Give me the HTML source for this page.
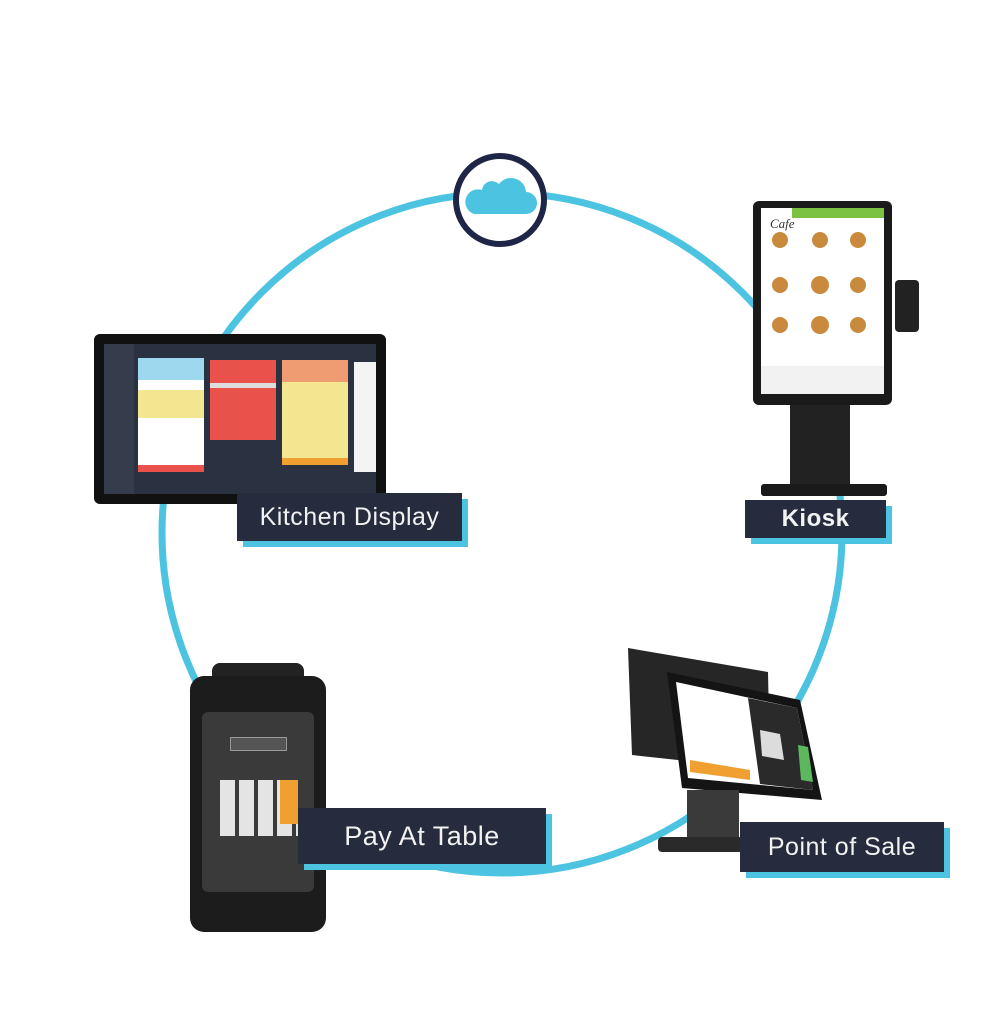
<!DOCTYPE html>
<html><head><meta charset="utf-8"><style>
html,body{margin:0;padding:0;background:#fff;width:1005px;height:1024px;overflow:hidden;position:relative;font-family:"Liberation Sans",sans-serif}
.a{position:absolute}
.lbl{position:absolute;background:#262b3e;color:#f2f2f2;box-shadow:6px 6px 0 #4cc3e0;display:flex;align-items:center;justify-content:center;font-size:25px;letter-spacing:0.5px}
</style></head><body>
<svg class="a" style="left:0;top:0" width="1005" height="1024">
<circle cx="502" cy="533" r="340" fill="none" stroke="#4cc3e0" stroke-width="7"/>
<circle cx="500" cy="200" r="44" fill="#fff" stroke="#1f2547" stroke-width="6"/>
<path d="M474 214 h52 a11 11 0 0 0 0-22 a15 15 0 0 0-27-8 a10 10 0 0 0-17 6 a12 12 0 0 0-8 24z" fill="#4cc3e0"/>
<!-- POS -->
<polygon points="628,648 768,672 770,770 632,755" fill="#262626"/>
<polygon points="667,672 800,700 822,800 682,788" fill="#141414"/>
<polygon points="676,682 797,708 813,790 688,778" fill="#fff"/>
<polygon points="748,698 797,708 813,790 760,784" fill="#2a2a2a"/>
<polygon points="760,730 780,734 784,760 762,756" fill="#dcdcdc"/>
<polygon points="798,745 808,747 813,782 801,780" fill="#5cb85c"/>
<polygon points="690,760 750,770 750,780 690,772" fill="#f0a030"/>
<rect x="687" y="790" width="52" height="50" fill="#3a3a3a"/>
<rect x="658" y="837" width="85" height="15" rx="4" fill="#2a2a2a"/>
<!-- kiosk food -->
<g fill="#c98a3e">
<circle cx="780" cy="240" r="9"/><circle cx="820" cy="240" r="9"/><circle cx="858" cy="240" r="9"/>
<circle cx="780" cy="285" r="9"/><circle cx="820" cy="285" r="9"/><circle cx="858" cy="285" r="9"/>
<circle cx="780" cy="325" r="9"/><circle cx="820" cy="325" r="9"/><circle cx="858" cy="325" r="9"/>
</g>
</svg>

<!-- Kitchen display -->
<div class="a" style="left:94px;top:334px;width:292px;height:170px;background:#111;border-radius:6px"></div>
<div class="a" style="left:104px;top:344px;width:272px;height:150px;background:#2a3140"></div>
<div class="a" style="left:104px;top:344px;width:30px;height:150px;background:#353c4b"></div>
<div class="a" style="left:138px;top:358px;width:66px;height:114px;background:#fff"></div>
<div class="a" style="left:138px;top:358px;width:66px;height:22px;background:#9dd8ee"></div>
<div class="a" style="left:138px;top:390px;width:66px;height:28px;background:#f2e690"></div>
<div class="a" style="left:138px;top:465px;width:66px;height:7px;background:#e8524a"></div>
<div class="a" style="left:210px;top:360px;width:66px;height:80px;background:#e8524a"></div>
<div class="a" style="left:210px;top:383px;width:66px;height:5px;background:#ddd"></div>
<div class="a" style="left:282px;top:360px;width:66px;height:105px;background:#f2e690"></div>
<div class="a" style="left:282px;top:360px;width:66px;height:22px;background:#f09c72"></div>
<div class="a" style="left:282px;top:458px;width:66px;height:7px;background:#f0a030"></div>
<div class="a" style="left:354px;top:362px;width:22px;height:110px;background:#f4f4f4"></div>

<!-- Kiosk -->
<div class="a" style="left:753px;top:201px;width:139px;height:204px;background:#1a1a1a;border-radius:6px"></div>
<div class="a" style="left:761px;top:208px;width:123px;height:186px;background:#fff;z-index:0"></div>
<div class="a" style="left:792px;top:208px;width:92px;height:10px;background:#7cc242"></div>
<div class="a" style="left:761px;top:366px;width:123px;height:28px;background:#f2f2f2"></div>
<div class="a" style="left:895px;top:280px;width:24px;height:52px;background:#222;border-radius:4px"></div>
<div class="a" style="left:790px;top:405px;width:60px;height:80px;background:#222"></div>
<div class="a" style="left:761px;top:484px;width:126px;height:12px;background:#1a1a1a;border-radius:3px"></div>
<svg class="a" style="left:0;top:0" width="1005" height="1024">
<g fill="#c98a3e">
<circle cx="780" cy="240" r="8"/><circle cx="820" cy="240" r="8"/><circle cx="858" cy="240" r="8"/>
<circle cx="780" cy="285" r="8"/><circle cx="820" cy="285" r="9"/><circle cx="858" cy="285" r="8"/>
<circle cx="780" cy="325" r="8"/><circle cx="820" cy="325" r="9"/><circle cx="858" cy="325" r="8"/>
</g>
<text x="770" y="228" font-family="Liberation Serif" font-style="italic" font-size="13" fill="#333">Cafe</text>
</svg>

<!-- Pay terminal -->
<div class="a" style="left:212px;top:663px;width:92px;height:20px;background:#222;border-radius:8px 8px 0 0"></div>
<div class="a" style="left:190px;top:676px;width:136px;height:256px;background:#1c1c1c;border-radius:14px"></div>
<div class="a" style="left:202px;top:712px;width:112px;height:180px;background:#3a3a3a;border-radius:6px"></div>
<div class="a" style="left:230px;top:737px;width:55px;height:12px;background:#555;border:1px solid #999"></div>
<div class="a" style="left:220px;top:780px;width:78px;height:56px;background:repeating-linear-gradient(90deg,#e4e4e4 0 15px,#3a3a3a 15px 19px)"></div>
<div class="a" style="left:280px;top:780px;width:18px;height:44px;background:#f0a030"></div>

<div class="lbl" style="left:237px;top:493px;width:225px;height:48px">Kitchen Display</div>
<div class="lbl" style="left:745px;top:500px;width:141px;height:38px;font-weight:bold;font-size:24px">Kiosk</div>
<div class="lbl" style="left:298px;top:808px;width:248px;height:56px;font-size:27px">Pay At Table</div>
<div class="lbl" style="left:740px;top:822px;width:204px;height:50px;font-size:25px">Point of Sale</div>
</body></html>
